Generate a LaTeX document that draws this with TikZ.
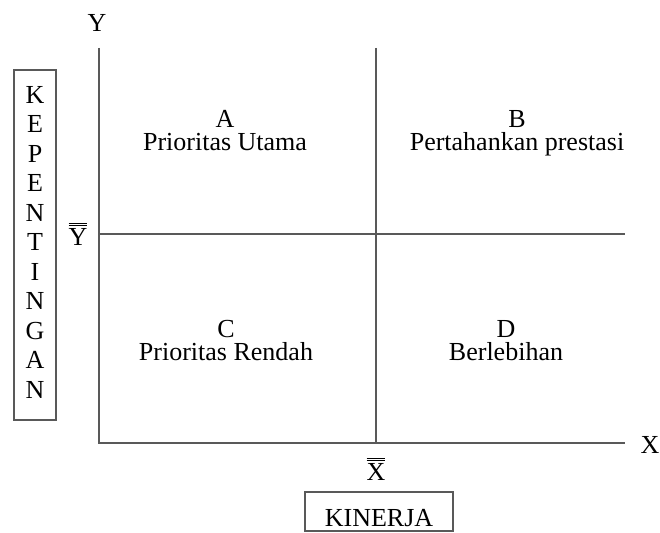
\documentclass[tikz,border=0pt]{standalone}
\usepackage{fontspec}
\setmainfont{Liberation Serif}
\newcommand{\dblbar}[1]{\vbox{\hrule height 0.9pt\kern1.6pt\hrule height 0.9pt\kern1.8pt\hbox{#1}}}
\begin{document}
\begin{tikzpicture}[x=1pt,y=-1pt,
  lbl/.style={inner sep=0pt,anchor=base,font=\fontsize{26}{26}\selectfont},
  quad/.style={inner sep=0pt,anchor=north,align=center,font=\fontsize{26}{23}\selectfont},
  axisline/.style={draw=black!65,line width=1.3pt},
  framebox/.style={draw=black!65,line width=1.3pt}]
\useasboundingbox (0,0) rectangle (660,532);
% axes and dividers
\coordinate (O) at (99,443);
\coordinate (Ytop) at (99,48);
\coordinate (Xend) at (625,443);
\coordinate (Vtop) at (376,48);
\coordinate (Vbot) at (376,443);
\coordinate (Hl) at (99,234);
\coordinate (Hr) at (625,234);
\draw[axisline] (Ytop) -- (O) -- (Xend);
\draw[axisline] (Vtop) -- (Vbot);
\draw[axisline] (Hl) -- (Hr);
% axis labels
\node[lbl] (ylab) at (97,32) {Y};
\node[lbl] (xlab) at (650,453) {X};
\node[lbl] (ybar) at (78,245) {\dblbar{Y}};
\node[lbl] (xbar) at (376,480) {\dblbar{X}};
% quadrant texts
\node[quad] (a) at (225,110) {A\\Prioritas Utama};
\node[quad] (b) at (517,110) {B\\Pertahankan prestasi};
\node[quad] (c) at (226,320) {C\\Prioritas Rendah};
\node[quad] (d) at (506,320) {D\\Berlebihan};
% KEPENTINGAN box
\draw[framebox] (14,70) rectangle (56,420);
\foreach \ch [count=\i from 0] in {K,E,P,E,N,T,I,N,G,A,N}
  \node[lbl] (k\i) at (35,{103+\i*29.5}) {\ch};
% KINERJA box
\node[framebox,inner sep=0pt,minimum width=148pt,minimum height=39pt] (kinbox) at (379,511.5) {};
\node[lbl] (kin) at (379,526) {KINERJA};
\end{tikzpicture}
\end{document}
